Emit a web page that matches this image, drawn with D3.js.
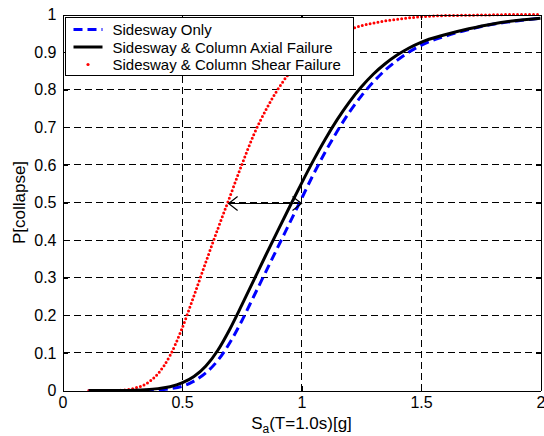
<!DOCTYPE html>
<html>
<head>
<meta charset="utf-8">
<script src="https://cdn.jsdelivr.net/npm/d3@7"></script>
<style>
  body { margin: 0; background: #fff; }
  svg { display: block; font-family: "Liberation Sans", Arial, sans-serif; }
  .grid line { stroke: #000; stroke-width: 1; stroke-dasharray: 7 4; shape-rendering: crispEdges; }
  .axis path, .axis line { stroke: #000; shape-rendering: crispEdges; }
  .axis text { font-size: 16px; fill: #000; }
</style>
</head>
<body>
<div id="chart"></div>
<script>
var w = 544, h = 436;

// Sa(T=1.0s) values where the curves were read
var sa = [0.11, 0.2, 0.25, 0.3, 0.35, 0.4, 0.45, 0.5, 0.55, 0.6, 0.65, 0.7, 0.75, 0.8, 0.85, 0.9, 0.95,
          1.0, 1.05, 1.1, 1.15, 1.2, 1.25, 1.3, 1.35, 1.4, 1.45, 1.5, 1.6, 1.7, 1.8, 1.9, 2.0];

// P[collapse]
var sideswayOnly = [0, 0, 0, 0, 0.0005, 0.002, 0.005, 0.011, 0.025, 0.047, 0.08, 0.127, 0.185, 0.25, 0.315, 0.38, 0.445,
                    0.51, 0.575, 0.635, 0.69, 0.74, 0.783, 0.82, 0.852, 0.878, 0.9, 0.918, 0.942, 0.96, 0.974, 0.983, 0.99];
var axialFailure = [0, 0, 0, 0.0005, 0.002, 0.005, 0.01, 0.02, 0.037, 0.065, 0.107, 0.163, 0.227, 0.293, 0.359, 0.424, 0.488,
                    0.551, 0.612, 0.669, 0.721, 0.767, 0.807, 0.841, 0.869, 0.892, 0.911, 0.926, 0.946, 0.962, 0.975, 0.984, 0.99];
var shearFailure = [0, 0, 0.001, 0.006, 0.018, 0.045, 0.093, 0.165, 0.252, 0.342, 0.43, 0.515, 0.6, 0.68, 0.745, 0.8, 0.845,
                    0.88, 0.908, 0.93, 0.947, 0.96, 0.97, 0.977, 0.983, 0.987, 0.991, 0.994, 0.997, 0.998, 0.999, 1.0, 1.0];

var xTicks = [0, 0.5, 1, 1.5, 2];
var yTicks = [0, 0.1, 0.2, 0.3, 0.4, 0.5, 0.6, 0.7, 0.8, 0.9, 1];
var legendLabels = ["Sidesway Only", "Sidesway & Column Axial Failure", "Sidesway & Column Shear Failure"];
// median shift arrow (shear median -> sidesway median)
var arrowFrom = [0.695, 0.5], arrowTo = [1.0, 0.5];

var svg = d3.select("#chart").append("svg")
    .attr("width", w)
    .attr("height", h);

var x = d3.scaleLinear().domain([0, 2]).range([62.5, 540.5]);
var y = d3.scaleLinear().domain([0, 1]).range([390.5, 14.5]);

//GRID
var grid = svg.append("g").attr("class", "grid");
grid.selectAll(".gx").data(xTicks.slice(1, -1)).enter().append("line")
    .attr("x1", function (d) { return x(d); })
    .attr("x2", function (d) { return x(d); })
    .attr("y1", y(0)).attr("y2", y(1));
grid.selectAll(".gy").data(yTicks.slice(1, -1)).enter().append("line")
    .attr("x1", x(0)).attr("x2", x(2))
    .attr("y1", function (d) { return y(d); })
    .attr("y2", function (d) { return y(d); });

//CURVES
var line = d3.line()
    .x(function (d) { return x(d[0]); })
    .y(function (d) { return y(d[1]); })
    .curve(d3.curveMonotoneX);

function pairs(vals) { return sa.map(function (s, i) { return [s, vals[i]]; }); }

svg.append("path")
    .attr("d", line(pairs(shearFailure)))
    .attr("fill", "none")
    .attr("stroke", "#ff0000")
    .attr("stroke-width", 3)
    .attr("stroke-linecap", "round")
    .attr("stroke-dasharray", "0 4");

svg.append("path")
    .attr("d", line(pairs(sideswayOnly)))
    .attr("fill", "none")
    .attr("stroke", "#0000ff")
    .attr("stroke-width", 3)
    .attr("stroke-dasharray", "9 5");

svg.append("path")
    .attr("d", line(pairs(axialFailure)))
    .attr("fill", "none")
    .attr("stroke", "#000")
    .attr("stroke-width", 3);

//ARROW (double headed)
var ax1 = x(arrowFrom[0]), ax2 = x(arrowTo[0]), ay = Math.round(y(arrowFrom[1])) + 0.5;
var arrow = svg.append("g").attr("stroke", "#000").attr("stroke-width", 1.2).attr("fill", "none");
arrow.append("line").attr("x1", ax1).attr("x2", ax2).attr("y1", ay).attr("y2", ay);
arrow.append("path").attr("d", "M" + (ax1 + 9) + "," + (ay - 7) + "L" + ax1 + "," + ay + "L" + (ax1 + 9) + "," + (ay + 7));
arrow.append("path").attr("d", "M" + (ax2 - 9) + "," + (ay - 7) + "L" + ax2 + "," + ay + "L" + (ax2 - 9) + "," + (ay + 7));

//AXES
svg.append("g").attr("class", "axis")
    .attr("transform", "translate(0," + y(0) + ")")
    .call(d3.axisBottom(x).tickValues(xTicks).tickFormat(d3.format("~g"))
        .tickSizeInner(-5).tickSizeOuter(0).tickPadding(6));
svg.append("g").attr("class", "axis")
    .attr("transform", "translate(" + x(0) + ",0)")
    .call(d3.axisLeft(y).tickValues(yTicks).tickFormat(d3.format("~g"))
        .tickSizeInner(-5).tickSizeOuter(0).tickPadding(6));
svg.append("g").attr("class", "axis")
    .attr("transform", "translate(0," + y(1) + ")")
    .call(d3.axisTop(x).tickValues(xTicks).tickFormat("").tickSizeInner(-5).tickSizeOuter(0));
svg.append("g").attr("class", "axis")
    .attr("transform", "translate(" + x(2) + ",0)")
    .call(d3.axisRight(y).tickValues(yTicks).tickFormat("").tickSizeInner(-5).tickSizeOuter(0));

//AXIS LABELS
var xl = svg.append("text")
    .attr("x", (x(0) + x(2)) / 2)
    .attr("y", 429)
    .attr("text-anchor", "middle")
    .style("font-size", "17px");
xl.append("tspan").text("S");
xl.append("tspan").attr("dy", 3.5).style("font-size", "12px").text("a");
xl.append("tspan").attr("dy", -3.5).text("(T=1.0s)[g]");

svg.append("text")
    .attr("transform", "translate(25," + (y(0) + y(1)) / 2 + ") rotate(-90)")
    .attr("text-anchor", "middle")
    .style("font-size", "17px")
    .text("P[collapse]");

//LEGEND
var lg = svg.append("g").attr("transform", "translate(65.5,17.5)");
lg.append("rect")
    .attr("width", 288).attr("height", 58)
    .attr("fill", "#fff").attr("stroke", "#000").attr("stroke-width", 1);
var rows = [12, 29.5, 47];
lg.append("line").attr("x1", 8).attr("x2", 37).attr("y1", rows[0]).attr("y2", rows[0])
    .attr("stroke", "#0000ff").attr("stroke-width", 3).attr("stroke-dasharray", "9 5");
lg.append("line").attr("x1", 8).attr("x2", 37).attr("y1", rows[1]).attr("y2", rows[1])
    .attr("stroke", "#000").attr("stroke-width", 3);
lg.append("circle").attr("cx", 22.5).attr("cy", rows[2]).attr("r", 1.6).attr("fill", "#ff0000");
lg.selectAll("text").data(legendLabels).enter().append("text")
    .attr("x", 47)
    .attr("y", function (d, i) { return rows[i] + 5.5; })
    .style("font-size", "15px")
    .text(function (d) { return d; });
</script>
</body>
</html>
